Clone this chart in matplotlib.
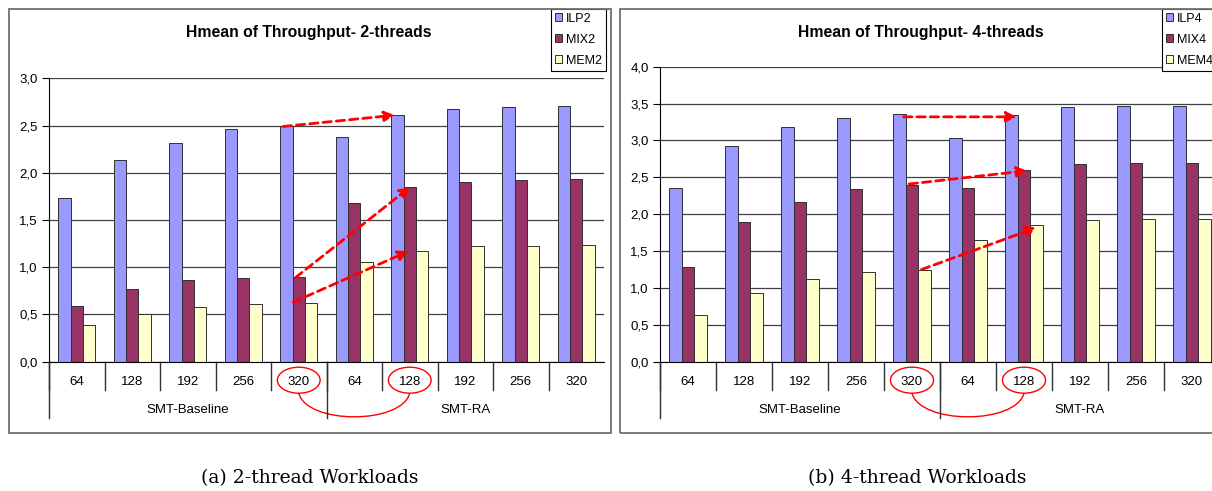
import matplotlib.pyplot as plt
from matplotlib.patches import Rectangle, Ellipse, PathPatch
from matplotlib.path import Path
from matplotlib.ticker import FuncFormatter

# Data
categories = ['64', '128', '192', '256', '320', '64', '128', '192', '256', '320']
groups = ['SMT-Baseline', 'SMT-RA']

ilp2 = [1.73, 2.14, 2.32, 2.46, 2.49, 2.38, 2.61, 2.67, 2.70, 2.71]
mix2 = [0.59, 0.77, 0.86, 0.89, 0.90, 1.68, 1.85, 1.90, 1.92, 1.93]
mem2 = [0.39, 0.51, 0.58, 0.61, 0.62, 1.06, 1.17, 1.22, 1.23, 1.24]

ilp4 = [2.35, 2.93, 3.18, 3.30, 3.36, 3.03, 3.35, 3.45, 3.47, 3.47]
mix4 = [1.29, 1.90, 2.17, 2.34, 2.40, 2.36, 2.60, 2.68, 2.69, 2.70]
mem4 = [0.64, 0.93, 1.12, 1.21, 1.25, 1.65, 1.86, 1.92, 1.93, 1.94]

colors = ['#9999FF', '#993366', '#FFFFCC']

W, H = 1212, 491
plt.rcParams['font.family'] = ['Liberation Sans', 'DejaVu Sans']
fig = plt.figure(figsize=(W / 100, H / 100), dpi=100)


def px_axes(l, t, r, b):
    return fig.add_axes([l / W, 1 - b / H, (r - l) / W, (b - t) / H])


def draw_chart(ax, series, names, ymax, title, title_x, legend_x, arrows):
    h = ax.bbox.height
    below = lambda p: -p / h  # pixels under the axis -> axes fraction
    n = len(categories)
    x = list(range(n))
    w = 0.225
    bars = []
    for k, (vals, c) in enumerate(zip(series, colors)):
        b = ax.bar([i + (k - 1) * w for i in x], vals, width=w, color=c,
                   edgecolor='#303030', linewidth=0.7, zorder=2)
        bars.append(b)

    ax.set_xlim(-0.5, n - 0.5)
    ax.set_ylim(0, ymax)
    ax.set_yticks([i * 0.5 for i in range(int(ymax / 0.5) + 1)])
    ax.yaxis.set_major_formatter(FuncFormatter(lambda v, _: f"{v:.1f}".replace('.', ',')))
    ax.yaxis.grid(True, color='#404040', linewidth=0.9)
    ax.set_axisbelow(True)
    for s in ['top', 'right']:
        ax.spines[s].set_visible(False)
    ax.spines['left'].set_color('black')
    ax.spines['bottom'].set_color('black')
    ax.tick_params(axis='y', direction='out', length=5, labelsize=9.5, colors='black', pad=3)
    ax.set_xticks(x, categories)
    ax.tick_params(axis='x', length=0, labelsize=9.5, pad=10.5)

    # category / group separators under the axis
    tr = ax.get_xaxis_transform()
    for i in range(n):
        ax.plot([i - 0.5, i - 0.5], [0, below(28.5)], color='#303030', lw=1,
                transform=tr, clip_on=False)
    for gx in [-0.5, 4.5]:
        ax.plot([gx, gx], [0, below(56.5)], color='#303030', lw=1,
                transform=tr, clip_on=False)
    ax.text(2, below(48), groups[0], transform=tr, ha='center', va='center', fontsize=9.5)
    ax.text(7, below(48), groups[1], transform=tr, ha='center', va='center', fontsize=9.5)

    # red circles and connector
    for cx in [4, 6]:
        ax.add_patch(Ellipse((cx, below(18.5)), 0.77, 26 / h, transform=tr,
                             fill=False, edgecolor='red', lw=1, clip_on=False))
    verts = [(4, below(31.5)), (4.15, below(63)), (5.85, below(63)), (6, below(31.5))]
    codes = [Path.MOVETO, Path.CURVE4, Path.CURVE4, Path.CURVE4]
    ax.add_patch(PathPatch(Path(verts, codes), transform=tr, fill=False,
                           edgecolor='red', lw=1, clip_on=False))

    # red dashed arrows
    for vals, dx0, dy0, dx1, dy1 in arrows:
        ax.annotate('', xy=(6 + dx1, vals[6] + dy1), xytext=(4 + dx0, vals[4] + dy0),
                    arrowprops=dict(arrowstyle='-|>', linestyle=(0, (3, 1.8)), color='red',
                                    lw=2, shrinkA=0, shrinkB=0, mutation_scale=15),
                    zorder=5)

    fig.text(title_x / W, 1 - 32 / H, title, ha='center', va='center',
             fontsize=11.3, fontweight='bold')

    leg = ax.legend(bars, names, loc='upper left', bbox_to_anchor=(legend_x / W, 1 - 9 / H),
                    bbox_transform=fig.transFigure, frameon=True, fancybox=False,
                    edgecolor='black', framealpha=1, fontsize=9, borderpad=0.3,
                    handlelength=0.6, handleheight=0.6, handletextpad=0.3,
                    labelspacing=0.72, borderaxespad=0)
    leg.get_frame().set_linewidth(0.8)


ax1 = px_axes(49, 78.3, 604, 361.7)
ax2 = px_axes(660, 66.7, 1220, 361.7)

draw_chart(ax1, [ilp2, mix2, mem2], ['ILP2', 'MIX2', 'MEM2'], 3.0,
           'Hmean of Throughput- 2-threads', 309, 551,
           [(ilp2, -0.28, 0.0, -0.27, 0.0),
            (mix2, -0.06, -0.01, 0.01, 0.0),
            (mem2, -0.10, 0.01, -0.02, 0.0)])
draw_chart(ax2, [ilp4, mix4, mem4], ['ILP4', 'MIX4', 'MEM4'], 4.0,
           'Hmean of Throughput- 4-threads', 921, 1162,
           [(ilp4, -0.15, -0.04, -0.13, -0.03),
            (mix4, -0.05, 0.01, 0.06, -0.01),
            (mem4, 0.17, 0.0, 0.23, -0.04)])

# outer chart frames
fig.add_artist(Rectangle((9 / W, 1 - 433 / H), 602 / W, 424 / H, transform=fig.transFigure,
                         fill=False, edgecolor='#707070', lw=1.3))
fig.add_artist(Rectangle((620 / W, 1 - 433 / H), 620 / W, 424 / H, transform=fig.transFigure,
                         fill=False, edgecolor='#707070', lw=1.3))

# captions
fig.text(310 / W, 1 - 478 / H, '(a) 2-thread Workloads', ha='center', va='center',
         fontsize=13.5, family='DejaVu Serif')
fig.text(917 / W, 1 - 478 / H, '(b) 4-thread Workloads', ha='center', va='center',
         fontsize=13.5, family='DejaVu Serif')

fig.savefig('out.png', dpi=100)
